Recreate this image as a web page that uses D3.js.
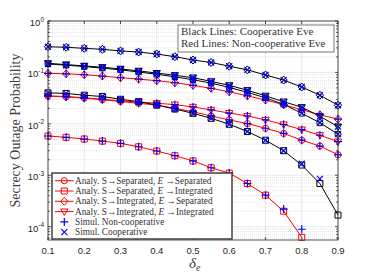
<!DOCTYPE html>
<html>
<head>
<meta charset="utf-8">
<script src="https://cdn.jsdelivr.net/npm/d3@7"></script>
<style>
  body { margin: 0; background: #fff; }
  svg { display: block; font-family: "Liberation Sans", Arial, sans-serif; }
  .serif { font-family: "Liberation Serif", "Times New Roman", serif; }
</style>
</head>
<body>
<div class="js-d3"></div>
<script>
// sample points of delta_e
const deltaE = [0.1, 0.15, 0.2, 0.25, 0.3, 0.35, 0.4, 0.45, 0.5, 0.55, 0.6, 0.65, 0.7, 0.75, 0.8, 0.85, 0.9];

// analytical curves, cooperative Eve (black)
const coopSepSep = [0.146, 0.138, 0.13, 0.121, 0.112, 0.102, 0.092, 0.082, 0.072, 0.062, 0.051, 0.041, 0.032, 0.024, 0.016, 0.0105, 0.0063];
const coopSepInt = [0.040, 0.039, 0.036, 0.034, 0.030, 0.027, 0.0232, 0.0194, 0.016, 0.0128, 0.0098, 0.0071, 0.0048, 0.0030, 0.00158, 0.00069, 0.000168];
const coopIntSep = [0.316, 0.308, 0.294, 0.281, 0.262, 0.249, 0.228, 0.202, 0.174, 0.156, 0.132, 0.112, 0.089, 0.071, 0.052, 0.036, 0.023];
const coopIntInt = [0.150, 0.142, 0.134, 0.126, 0.117, 0.107, 0.097, 0.088, 0.079, 0.067, 0.056, 0.045, 0.035, 0.027, 0.021, 0.014, 0.0088];

// analytical curves, non-cooperative Eve (red)
const nonSepSep = [0.0345, 0.0335, 0.0315, 0.0295, 0.0272, 0.025, 0.0232, 0.020, 0.0172, 0.0142, 0.0119, 0.0101, 0.0082, 0.0065, 0.0048, 0.0037, 0.0025];
const nonSepInt = [0.0058, 0.00546, 0.00506, 0.00462, 0.00417, 0.00358, 0.00296, 0.0024, 0.0019, 0.0014, 0.0011, 0.00069, 0.00041, 0.0002, 0.000062, null, null];
const nonIntSep = [0.096, 0.094, 0.090, 0.085, 0.079, 0.074, 0.069, 0.063, 0.056, 0.049, 0.042, 0.035, 0.029, 0.0235, 0.0188, 0.015, 0.0123];
const nonIntInt = [0.035, 0.034, 0.032, 0.030, 0.028, 0.0265, 0.0252, 0.0236, 0.0213, 0.0186, 0.0162, 0.0142, 0.0119, 0.0097, 0.0077, 0.006, 0.0045];

// simulation points where they split from the analysis
const simCoopSepInt = [0.040, 0.039, 0.036, 0.034, 0.030, 0.027, 0.0232, 0.0194, 0.016, 0.0128, 0.0098, 0.0071, 0.0048, 0.0030, 0.00167, 0.00085, null];
const simNonSepInt = [0.0058, 0.00546, 0.00506, 0.00462, 0.00417, 0.00358, 0.00296, 0.0024, 0.0019, 0.0014, 0.0011, 0.00069, 0.00041, 0.00022, 0.000089, null, null];

const xTicks = [0.1, 0.2, 0.3, 0.4, 0.5, 0.6, 0.7, 0.8, 0.9];
const yTicks = [1e-4, 1e-3, 1e-2, 1e-1, 1];
const yTickExp = ["-4", "-3", "-2", "-1", "0"];

const legendLabels = [
  ["Analy. S\u2192Separated, ", "E", " \u2192Separated"],
  ["Analy. S\u2192Separated, ", "E", " \u2192Integrated"],
  ["Analy. S\u2192Integrated, ", "E", " \u2192Separated"],
  ["Analy. S\u2192Integrated, ", "E", " \u2192Integrated"],
  ["Simul. Non-cooperative"],
  ["Simul. Cooperative"],
];

const margin = { top: 21, right: 36, bottom: 33, left: 48 };
const w = 374 - margin.left - margin.right;
const h = 273 - margin.top - margin.bottom;

const RED = "#ff0000";
const BLUE = "#0000ff";
const AXIS = "#262626";

const markerPath = {
  circle: d3.symbol(d3.symbolCircle, 30)(),
  square: "M-3,-3H3V3H-3Z",
  diamond: "M0,-4L3.6,0L0,4L-3.6,0Z",
  triangle: "M-3.6,-2.6H3.6L0,3.8Z",
  plus: "M-4,0H4M0,-4V4",
  times: "M-3,-3L3,3M-3,3L3,-3",
};

const svg = d3
  .select(".js-d3")
  .append("svg")
  .attr("width", 374)
  .attr("height", 273);

const g = svg.append("g").attr("transform", `translate(${margin.left}, ${margin.top})`);

const x = d3.scaleLinear().domain([0.1, 0.9]).range([0, w]);
const y = d3.scaleLog().domain([5.5e-5, 1]).range([h, 0]);

// minor y grid
const minorY = [];
for (let e = -5; e < 0; e++) {
  for (let k = 2; k <= 9; k++) {
    const v = k * Math.pow(10, e);
    if (v >= 5.5e-5 && v <= 1) minorY.push(v);
  }
}

g.append("g")
  .selectAll("line")
  .data(minorY)
  .enter()
  .append("line")
  .attr("x1", 0)
  .attr("x2", w)
  .attr("y1", (d) => y(d))
  .attr("y2", (d) => y(d))
  .attr("stroke", "#cfcfcf")
  .attr("stroke-width", 0.6)
  .attr("stroke-dasharray", "1,1");

g.append("g")
  .selectAll("line")
  .data(yTicks)
  .enter()
  .append("line")
  .attr("x1", 0)
  .attr("x2", w)
  .attr("y1", (d) => y(d))
  .attr("y2", (d) => y(d))
  .attr("stroke", "#e3e3e3")
  .attr("stroke-width", 0.8);

g.append("g")
  .selectAll("line")
  .data(xTicks)
  .enter()
  .append("line")
  .attr("x1", (d) => x(d))
  .attr("x2", (d) => x(d))
  .attr("y1", 0)
  .attr("y2", h)
  .attr("stroke", "#e3e3e3")
  .attr("stroke-width", 0.8);

// curves
const series = [
  { vals: nonSepSep, color: RED, mark: "circle" },
  { vals: nonSepInt, color: RED, mark: "square" },
  { vals: nonIntSep, color: RED, mark: "diamond" },
  { vals: nonIntInt, color: RED, mark: "triangle" },
  { vals: coopSepSep, color: "#000", mark: "circle" },
  { vals: coopSepInt, color: "#000", mark: "square" },
  { vals: coopIntSep, color: "#000", mark: "diamond" },
  { vals: coopIntInt, color: "#000", mark: "triangle" },
];

// simulation markers follow the analytic points except for the split ones
const sims = [
  { vals: nonSepSep, mark: "plus" },
  { vals: simNonSepInt, mark: "plus" },
  { vals: nonIntSep, mark: "plus" },
  { vals: nonIntInt, mark: "plus" },
  { vals: coopSepSep, mark: "times" },
  { vals: simCoopSepInt, mark: "times" },
  { vals: coopIntSep, mark: "times" },
  { vals: coopIntInt, mark: "times" },
];

const line = d3
  .line()
  .defined((d) => d[1] != null)
  .x((d) => x(d[0]))
  .y((d) => y(d[1]));

const pts = (vals) => deltaE.map((d, i) => [d, vals[i]]).filter((d) => d[1] != null);

series.forEach((s) => {
  g.append("path")
    .datum(deltaE.map((d, i) => [d, s.vals[i]]))
    .attr("d", line)
    .attr("fill", "none")
    .attr("stroke", s.color)
    .attr("stroke-width", 1);

  g.append("g")
    .selectAll("path")
    .data(pts(s.vals))
    .enter()
    .append("path")
    .attr("d", markerPath[s.mark])
    .attr("transform", (d) => `translate(${x(d[0])}, ${y(d[1])})`)
    .attr("fill", "none")
    .attr("stroke", s.color)
    .attr("stroke-width", 1);
});

sims.forEach((s) => {
  g.append("g")
    .selectAll("path")
    .data(pts(s.vals))
    .enter()
    .append("path")
    .attr("d", markerPath[s.mark])
    .attr("transform", (d) => `translate(${x(d[0])}, ${y(d[1])})`)
    .attr("fill", "none")
    .attr("stroke", BLUE)
    .attr("stroke-width", 1.2);
});

// axes box and inward ticks
g.append("rect")
  .attr("width", w)
  .attr("height", h)
  .attr("fill", "none")
  .attr("stroke", AXIS)
  .attr("stroke-width", 0.8);

const ticks = g.append("g").attr("stroke", AXIS).attr("stroke-width", 0.8);
xTicks.forEach((t) => {
  ticks.append("line").attr("x1", x(t)).attr("x2", x(t)).attr("y1", h).attr("y2", h - 3);
  ticks.append("line").attr("x1", x(t)).attr("x2", x(t)).attr("y1", 0).attr("y2", 3);
});
yTicks.forEach((t) => {
  ticks.append("line").attr("x1", 0).attr("x2", 3).attr("y1", y(t)).attr("y2", y(t));
  ticks.append("line").attr("x1", w).attr("x2", w - 3).attr("y1", y(t)).attr("y2", y(t));
});
minorY.forEach((t) => {
  ticks.append("line").attr("x1", 0).attr("x2", 1.8).attr("y1", y(t)).attr("y2", y(t));
  ticks.append("line").attr("x1", w).attr("x2", w - 1.8).attr("y1", y(t)).attr("y2", y(t));
});

// tick labels
g.append("g")
  .selectAll("text")
  .data(xTicks)
  .enter()
  .append("text")
  .attr("x", (d) => x(d))
  .attr("y", h + 13.5)
  .attr("text-anchor", "middle")
  .attr("font-size", 9.5)
  .attr("fill", AXIS)
  .text((d) => d3.format(".1f")(d));

const yl = g
  .append("g")
  .selectAll("text")
  .data(yTicks)
  .enter()
  .append("text")
  .attr("x", -4)
  .attr("y", (d) => y(d) + 5)
  .attr("text-anchor", "end")
  .attr("font-size", 9.5)
  .attr("fill", AXIS);
yl.append("tspan").text("10");
yl.append("tspan")
  .attr("dy", -4.5)
  .attr("font-size", 6.5)
  .text((d, i) => yTickExp[i]);

// axis titles
svg
  .append("text")
  .attr("class", "serif")
  .attr("transform", `translate(20, ${margin.top + h / 2}) rotate(-90)`)
  .attr("text-anchor", "middle")
  .attr("font-size", 14)
  .attr("fill", "#404040")
  .text("Secrecy Outage Probability");

const xl = svg
  .append("text")
  .attr("class", "serif")
  .attr("x", 189)
  .attr("y", 268)
  .attr("font-size", 15)
  .attr("font-style", "italic")
  .attr("fill", "#404040");
xl.append("tspan").text("\u03b4");
xl.append("tspan").attr("font-size", 10).attr("dy", 3).text("e");

// note box
const note = svg.append("g").attr("class", "serif");
note
  .append("rect")
  .attr("x", 178)
  .attr("y", 25)
  .attr("width", 156)
  .attr("height", 27)
  .attr("fill", "#fff")
  .attr("stroke", "#555")
  .attr("stroke-width", 0.8);
note.append("text").attr("x", 181).attr("y", 34.5).attr("font-size", 11).attr("fill", "#333")
  .text("Black Lines: Cooperative Eve");
note.append("text").attr("x", 181).attr("y", 47).attr("font-size", 11).attr("fill", "#333")
  .text("Red Lines: Non-cooperative Eve");

// legend
const legend = svg.append("g").attr("class", "serif").attr("transform", "translate(52, 173)");
legend
  .append("rect")
  .attr("width", 180)
  .attr("height", 66)
  .attr("fill", "#fff")
  .attr("stroke", "#404040")
  .attr("stroke-width", 1.5);

const legendItems = [
  { color: RED, mark: "circle", line: true },
  { color: RED, mark: "square", line: true },
  { color: RED, mark: "diamond", line: true },
  { color: RED, mark: "triangle", line: true },
  { color: BLUE, mark: "plus", line: false },
  { color: BLUE, mark: "times", line: false },
];

legendItems.forEach((it, i) => {
  const ry = 7.7 + i * 10.3;
  if (it.line) {
    legend.append("line").attr("x1", 3).attr("x2", 21.5).attr("y1", ry).attr("y2", ry)
      .attr("stroke", it.color).attr("stroke-width", 1);
  }
  legend.append("path")
    .attr("d", markerPath[it.mark])
    .attr("transform", `translate(12.3, ${ry})`)
    .attr("fill", "none")
    .attr("stroke", it.color)
    .attr("stroke-width", it.line ? 1 : 1.2);
  const t = legend.append("text").attr("x", 23).attr("y", ry + 3).attr("font-size", 9.3).attr("fill", "#333");
  legendLabels[i].forEach((part, j) => {
    t.append("tspan").attr("font-style", j === 1 ? "italic" : null).text(part);
  });
});
</script>
</body>
</html>
